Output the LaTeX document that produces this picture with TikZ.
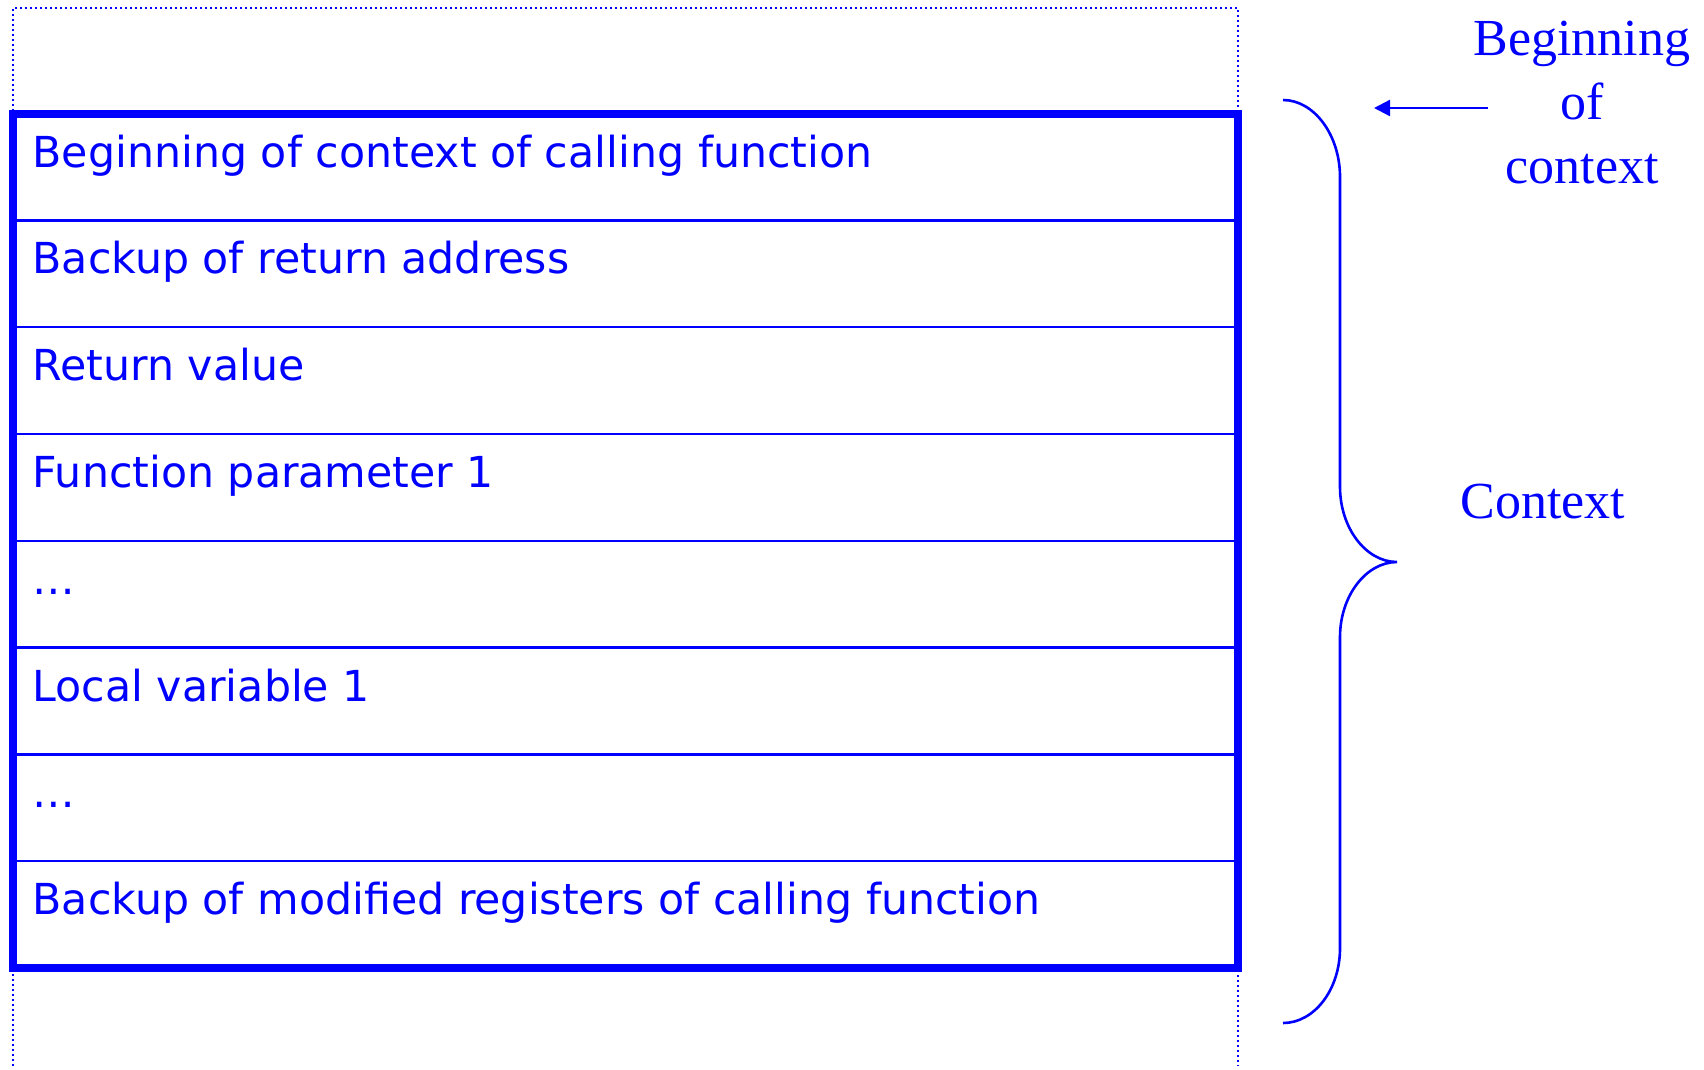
\documentclass[tikz,border=0pt]{standalone}
\usepackage{fontspec}
\usetikzlibrary{arrows.meta}
\newfontfamily\rowfont{DejaVu Sans}
\newfontfamily\notefont{Liberation Serif}
\definecolor{pblue}{RGB}{0,0,255}
\begin{document}
\begin{tikzpicture}[x=1pt,y=-1pt,
  rowtext/.style={anchor=base west, inner sep=0pt, text=pblue, font=\rowfont\fontsize{42.7}{50}\selectfont},
  notetext/.style={inner sep=0pt, text=pblue, font=\notefont\fontsize{52}{64}\selectfont, align=center},
  frame/.style={draw=pblue, line width=8pt},
  sepline/.style={draw=pblue, line width=2.4pt},
  guide/.style={draw=pblue, line width=2pt, dash pattern=on 2pt off 3pt},
  bracepath/.style={draw=pblue, line width=2.6pt},
  pointer/.style={draw=pblue, line width=2.4pt, -{Triangle[length=16pt,width=16pt]}}]
\useasboundingbox (0,0) rectangle (1704,1069);
% dotted guides
\draw[guide] (13,1066) -- (13,8) -- (1238,8) -- (1238,1066);
% row separators
\foreach \k in {1,...,7}{
  \draw[sepline] (13,{113.5+\k*106.8}) -- (1238,{113.5+\k*106.8});
}
% frame
\draw[frame] (13,113.5) rectangle (1238,968);
% row texts
\node[rowtext] (r1) at (32.5,{113.5+0*106.8+53.5}) {Beginning of context of calling function};
\node[rowtext] (r2) at (32.5,{113.5+1*106.8+53.5}) {Backup of return address};
\node[rowtext] (r3) at (32.5,{113.5+2*106.8+53.5}) {Return value};
\node[rowtext] (r4) at (32.5,{113.5+3*106.8+53.5}) {Function parameter 1};
\node[rowtext] (r5) at (32.5,{113.5+4*106.8+53.5}) {…};
\node[rowtext] (r6) at (32.5,{113.5+5*106.8+53.5}) {Local variable 1};
\node[rowtext] (r7) at (32.5,{113.5+6*106.8+53.5}) {…};
\node[rowtext] (r8) at (32.5,{113.5+7*106.8+53.5}) {Backup of modified registers of calling function};
% brace
\draw[bracepath] (1283,100) .. controls (1314,100) and (1340,135) .. (1340,177)
  -- (1340,487) .. controls (1340,528) and (1366,562) .. (1397,562)
  .. controls (1366,562) and (1340,596) .. (1340,637)
  -- (1340,948) .. controls (1340,990) and (1314,1023) .. (1283,1023);
% labels
\node[notetext, anchor=base] (boc) at (1582,183) {Beginning\\of\\context};
\node[notetext, anchor=base] (ctx) at (1543,518) {Context};
% arrow
\coordinate (atail) at (1488,108);
\coordinate (ahead) at (1374,108);
\draw[pointer] (atail) -- (ahead);
\end{tikzpicture}
\end{document}
